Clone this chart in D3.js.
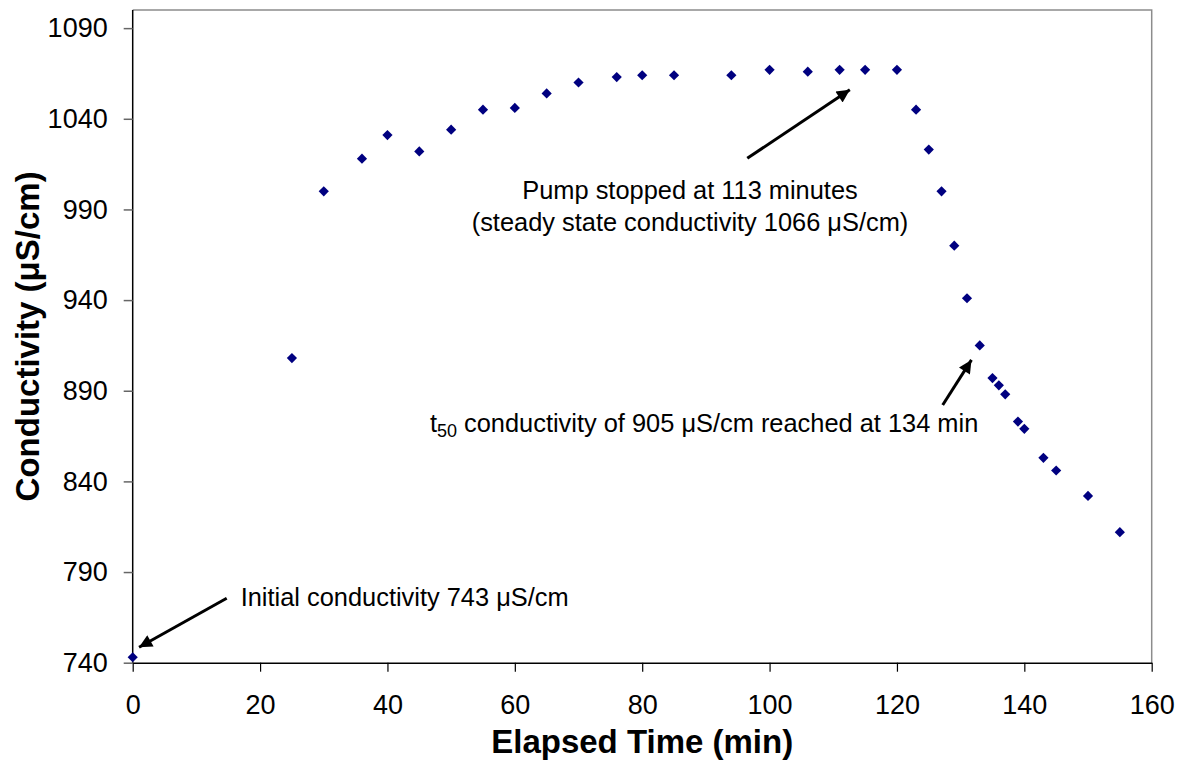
<!DOCTYPE html>
<html>
<head>
<meta charset="utf-8">
<script src="https://cdn.jsdelivr.net/npm/d3@7"></script>
<style>
  body { margin: 0; background: #fff; }
  svg { display: block; font-family: "Liberation Sans", Arial, sans-serif; }
</style>
</head>
<body>
<div id="chart"></div>
<script>
const width = 1185;
const height = 765;

// readings
const time = [0, 25, 30, 36, 40, 45, 50, 55, 60, 65, 70, 76, 80, 85, 94, 100, 106, 111, 115, 120,
  123, 125, 127, 129, 131, 133, 135, 136, 137, 139, 140, 143, 145, 150, 155];
const conductivity = [743, 908, 1000, 1018, 1031, 1022, 1034, 1045, 1046, 1054, 1060, 1063, 1064, 1064, 1064, 1067, 1066, 1067, 1067, 1067,
  1045, 1023, 1000, 970, 941, 915, 897, 893, 888, 873, 869, 853, 846, 832, 812];
const xTicks = [0, 20, 40, 60, 80, 100, 120, 140, 160];
const yTicks = [740, 790, 840, 890, 940, 990, 1040, 1090];

const points = time.map((t, i) => ({ t: t, c: conductivity[i] }));

const x = d3.scaleLinear().domain([0, 160]).range([132.7, 1151.7]);
const y = d3.scaleLinear().domain([740, 1100]).range([662.7, 10]);

const svg = d3.select("#chart").append("svg")
    .attr("width", width)
    .attr("height", height);

const defs = svg.append("defs");
defs.append("marker")
    .attr("id", "head")
    .attr("viewBox", "0 0 10 10")
    .attr("refX", 10)
    .attr("refY", 5)
    .attr("markerUnits", "userSpaceOnUse")
    .attr("markerWidth", 17)
    .attr("markerHeight", 13)
    .attr("orient", "auto")
    .append("path")
    .attr("d", "M0,0L10,5L0,10Z")
    .attr("fill", "#000");

// plot frame: grey on top and right
svg.append("path")
    .attr("d", `M${x(0)},${y(1100)}H${x(160)}V${y(740)}`)
    .attr("fill", "none")
    .attr("stroke", "#8c8c8c")
    .attr("stroke-width", 1.5);

// axes
const yAxis = svg.append("g")
    .attr("transform", `translate(${x(0)},0)`)
    .call(d3.axisLeft(y).tickValues(yTicks).tickFormat(d3.format("d"))
      .tickSize(9).tickPadding(16).tickSizeOuter(0));
yAxis.select(".domain").attr("d", `M0,${y(740)}V${y(1100)}`).attr("stroke-width", 1.5);
yAxis.selectAll(".tick line").attr("stroke", "#666").attr("stroke-width", 1.5);

const xAxis = svg.append("g")
    .attr("transform", `translate(0,${y(740)})`)
    .call(d3.axisBottom(x).tickValues(xTicks).tickFormat(d3.format("d"))
      .tickSize(9).tickPadding(23).tickSizeOuter(0));
xAxis.select(".domain").attr("stroke-width", 1.5);
xAxis.selectAll(".tick line").attr("stroke-width", 1.2);

svg.selectAll(".tick text")
    .attr("font-family", "'Liberation Sans', Arial, sans-serif")
    .attr("font-size", 27)
    .attr("fill", "#000");

// axis titles
svg.append("text")
    .attr("x", (x(0) + x(160)) / 2)
    .attr("y", 753)
    .attr("text-anchor", "middle")
    .attr("font-size", 33)
    .attr("font-weight", "bold")
    .text("Elapsed Time (min)");

svg.append("text")
    .attr("transform", `translate(39,${(y(740) + y(1100)) / 2}) rotate(-90)`)
    .attr("text-anchor", "middle")
    .attr("font-size", 33)
    .attr("font-weight", "bold")
    .text("Conductivity (μS/cm)");

// data
svg.append("g")
    .selectAll("path")
    .data(points)
    .join("path")
    .attr("transform", d => `translate(${x(d.t)},${y(d.c)}) rotate(45)`)
    .attr("d", d3.symbol(d3.symbolSquare, 52))
    .attr("fill", "#000080");

// annotations
const arrows = svg.append("g")
    .attr("stroke", "#000")
    .attr("stroke-width", 3)
    .attr("marker-end", "url(#head)");

arrows.append("line")
    .attr("x1", 226.7).attr("y1", 598.3)
    .attr("x2", x(1.0)).attr("y2", y(748.5));
arrows.append("line")
    .attr("x1", 747.3).attr("y1", 158.3)
    .attr("x2", x(112.6)).attr("y2", y(1056));
arrows.append("line")
    .attr("x1", 942.7).attr("y1", 405)
    .attr("x2", x(131.7)).attr("y2", y(907));

const notes = svg.append("g")
    .attr("font-size", 25.4)
    .attr("fill", "#000");

notes.append("text")
    .attr("x", 240.7)
    .attr("y", 606)
    .text("Initial conductivity 743 μS/cm");

notes.append("text")
    .attr("x", 690)
    .attr("y", 199)
    .attr("text-anchor", "middle")
    .text("Pump stopped at 113 minutes");
notes.append("text")
    .attr("x", 690)
    .attr("y", 231)
    .attr("text-anchor", "middle")
    .text("(steady state conductivity 1066 μS/cm)");

const t50 = notes.append("text")
    .attr("x", 978.3)
    .attr("y", 432)
    .attr("text-anchor", "end");
t50.append("tspan").text("t");
t50.append("tspan").attr("font-size", 18).attr("dy", 5).text("50");
t50.append("tspan").attr("dy", -5).text(" conductivity of 905 μS/cm reached at 134 min");
</script>
</body>
</html>
